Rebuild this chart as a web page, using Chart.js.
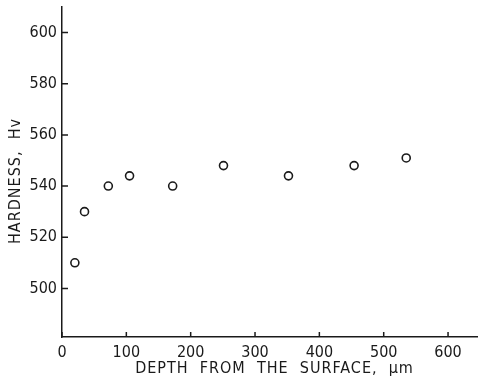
<!DOCTYPE html>
<html>
<head>
<meta charset="utf-8">
<script src="https://cdn.jsdelivr.net/npm/chart.js@4.4.1/dist/chart.umd.min.js"></script>
<style>
  html, body { margin: 0; padding: 0; background: #fff; }
  #wrap { position: relative; width: 478px; height: 390px; }
</style>
</head>
<body>
<div id="wrap"><canvas id="chartHardness"></canvas></div>
<script>
// ── DATA ──────────────────────────────────────────────
const depthUm   = [20, 35, 72, 105, 172, 251, 352, 454, 535];
const hardness  = [510, 530, 540, 544, 540, 548, 544, 548, 551];
const xTicks    = [0, 100, 200, 300, 400, 500, 600];
const yTicks    = [500, 520, 540, 560, 580, 600];
const xTitle    = 'DEPTH  FROM  THE  SURFACE,  \u03bcm';
const yTitle    = 'HARDNESS,  Hv';

const INK  = '#1a1a1a';
const FONT = "'DejaVu Sans Condensed', 'DejaVu Sans', sans-serif";

// inward tick marks + spaced axis titles
const axisDecor = {
  id: 'axisDecor',
  afterDraw(chart) {
    const { ctx, chartArea: a, scales: { x, y } } = chart;
    ctx.save();
    ctx.strokeStyle = INK;
    ctx.lineWidth = 1.5;
    ctx.beginPath();
    xTicks.forEach(v => {
      const px = x.getPixelForValue(v);
      ctx.moveTo(px, a.bottom);
      ctx.lineTo(px, a.bottom - 5);
    });
    yTicks.forEach(v => {
      const py = y.getPixelForValue(v);
      ctx.moveTo(a.left, py);
      ctx.lineTo(a.left + 6, py);
    });
    ctx.stroke();

    ctx.fillStyle = INK;
    ctx.font = '16px ' + FONT;
    ctx.textAlign = 'center';
    ctx.textBaseline = 'middle';
    ctx.letterSpacing = '1px';
    ctx.fillText(xTitle, (a.left + a.right) / 2 + 5, 369);
    ctx.translate(16, (a.top + a.bottom) / 2 + 9);
    ctx.rotate(-Math.PI / 2);
    ctx.fillText(yTitle, 0, 0);
    ctx.restore();
  }
};

new Chart(document.getElementById('chartHardness'), {
  type: 'scatter',
  data: {
    datasets: [{
      data: depthUm.map((d, i) => ({ x: d, y: hardness[i] })),
      pointStyle: 'circle',
      pointRadius: 4,
      pointBorderWidth: 1.6,
      borderColor: INK,
      backgroundColor: '#fff',
      showLine: false,
    }]
  },
  options: {
    responsive: true, maintainAspectRatio: false, animation: false,
    devicePixelRatio: 1,
    layout: { autoPadding: false, padding: { top: 7, right: 1, left: 0, bottom: 0 } },
    plugins: { legend: { display: false }, tooltip: { enabled: false } },
    scales: {
      x: {
        type: 'linear', min: 0, max: 645,
        afterBuildTicks: s => { s.ticks = xTicks.map(v => ({ value: v })); },
        afterFit: s => { s.height = 53; s.paddingLeft = 0; s.paddingRight = 0; },
        ticks: { color: INK, font: { family: FONT, size: 16 }, padding: 6, maxRotation: 0 },
        grid: { display: true, drawOnChartArea: false, drawTicks: false },
        border: { color: INK, width: 1.5 },
      },
      y: {
        type: 'linear', min: 481, max: 610,
        afterBuildTicks: s => { s.ticks = yTicks.map(v => ({ value: v })); },
        afterFit: s => { s.width = 62; s.paddingTop = 0; s.paddingBottom = 0; },
        ticks: { color: INK, font: { family: FONT, size: 16 }, padding: 5 },
        grid: { display: true, drawOnChartArea: false, drawTicks: false },
        border: { color: INK, width: 1.5 },
      }
    }
  },
  plugins: [axisDecor]
});
</script>
</body>
</html>
